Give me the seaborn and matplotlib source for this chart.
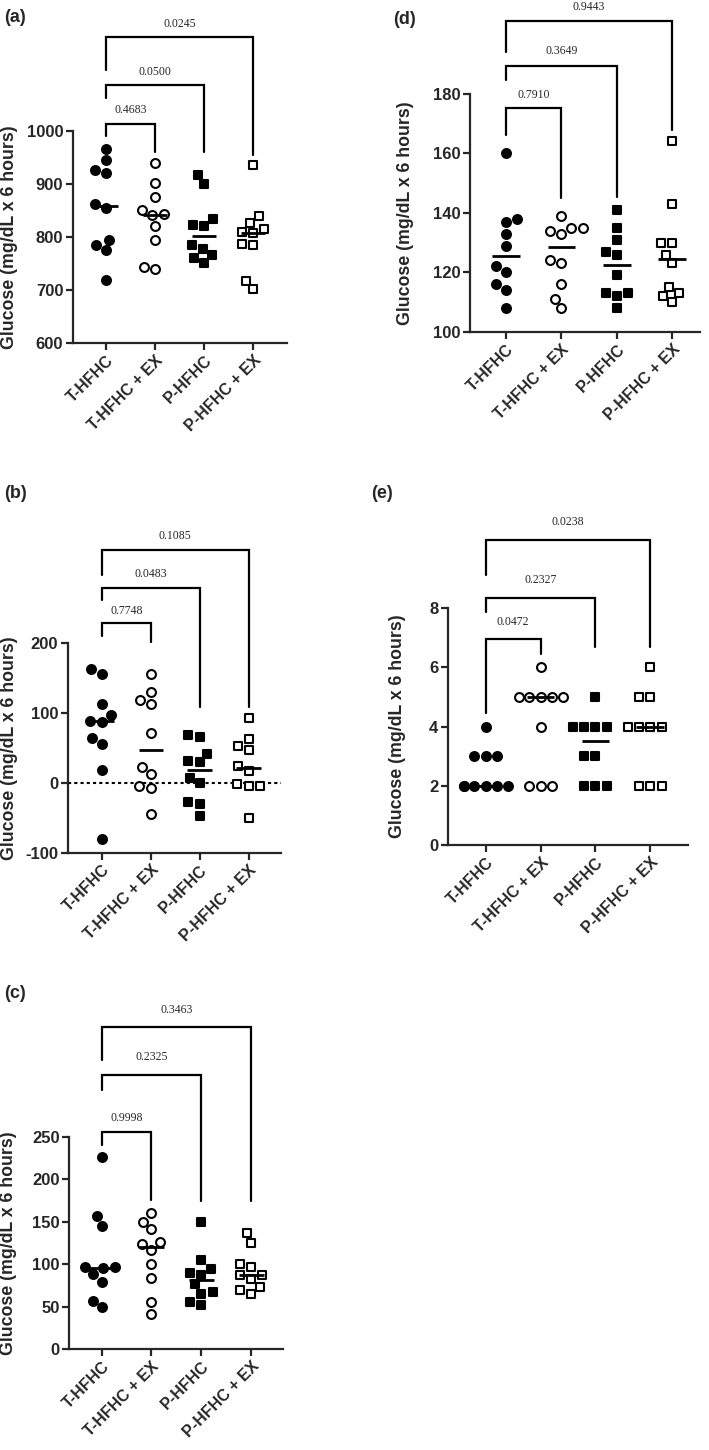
import numpy as np
import pandas as pd
import matplotlib
matplotlib.use('Agg')
import matplotlib.pyplot as plt
import seaborn as sns

groups = ['T-HFHC', 'T-HFHC + EX', 'P-HFHC', 'P-HFHC + EX']

# panel (a)
a_t = [966, 945, 921, 926, 862, 854, 795, 775, 785, 718]
a_tex = [939, 902, 875, 851, 841, 843, 821, 795, 739, 743]
a_p = [917, 899, 834, 823, 821, 784, 778, 761, 765, 750]
a_pex = [936, 840, 827, 814, 809, 807, 785, 787, 717, 701]
a_pvals = ['0.4683', '0.0500', '0.0245']

# panel (b)
b_t = [163, 156, 112, 97, 88, 87, 64, 56, 18, -80]
b_tex = [156, 129, 112, 118, 71, 23, 13, -5, -7, -44]
b_p = [66, 68, 41, 29, 31, 7, -1, -27, -30, -48]
b_pex = [93, 63, 53, 47, 24, 17, -2, -5, -5, -50]
b_pvals = ['0.7748', '0.0483', '0.1085']

# panel (c)
c_t = [226, 157, 145, 97, 96, 95, 88, 79, 57, 49]
c_tex = [160, 150, 141, 126, 124, 117, 100, 84, 55, 41]
c_p = [149, 105, 94, 89, 87, 76, 67, 65, 55, 52]
c_pex = [137, 125, 100, 97, 87, 87, 82, 73, 70, 65]
c_pvals = ['0.9998', '0.2325', '0.3463']

# panel (d)
d_t = [160, 137, 138, 133, 129, 122, 120, 116, 114, 108]
d_tex = [139, 135, 135, 134, 133, 124, 123, 116, 111, 108]
d_p = [141, 135, 131, 127, 126, 119, 113, 113, 112, 108]
d_pex = [164, 143, 130, 130, 126, 123, 115, 113, 112, 110]
d_pvals = ['0.7910', '0.3649', '0.9443']

# panel (e)
e_t = [4, 3, 3, 3, 2, 2, 2, 2, 2, 2]
e_tex = [6, 5, 5, 5, 5, 5, 4, 2, 2, 2]
e_p = [5, 4, 4, 4, 4, 3, 3, 2, 2, 2]
e_pex = [6, 5, 5, 4, 4, 4, 4, 2, 2, 2]
e_pvals = ['0.0472', '0.2327', '0.0238']

sns.set_style('ticks')
plt.rcParams['font.family'] = ['Liberation Sans', 'DejaVu Sans']

W, H = 709, 1450
fig = plt.figure(figsize=(W / 100, H / 100), dpi=100)

marker_styles = [('o', 'black'), ('o', 'white'), ('s', 'black'), ('s', 'white')]


def make_ax(box):
    l, t, r, b = box
    return fig.add_axes([l / W, (H - b) / H, (r - l) / W, (b - t) / H])


def draw_panel(box, values, yticks, xlim, pvals, brackets, letter, letter_xy, ylab_x, zero_line=False):
    ax = make_ax(box)
    df = pd.DataFrame({'group': np.repeat(groups, [len(v) for v in values]),
                       'value': np.concatenate(values)})
    if zero_line:
        ax.axhline(0, color='black', ls=(0, (1.5, 1.5)), lw=1.5, zorder=1)
    sns.boxplot(data=df, x='group', y='value', order=groups, width=0.5, ax=ax,
                showbox=False, showcaps=False, showfliers=False,
                whiskerprops={'visible': False},
                medianprops={'color': 'black', 'linewidth': 2, 'zorder': 5})
    for g, (m, fc) in zip(groups, marker_styles):
        sns.swarmplot(data=df[df.group == g], x='group', y='value', order=groups, ax=ax,
                      marker=m, color=fc, edgecolor='black', linewidth=1.5, size=6.4,
                      warn_thresh=1, zorder=4)

    ax.set_xlim(*xlim)
    ax.set_ylim(yticks[0], yticks[-1])
    ax.set_yticks(yticks)
    ax.set_yticklabels([str(v) for v in yticks], fontweight='bold', fontsize=12)
    ax.set_xticks(range(4))
    ax.set_xticklabels(groups, rotation=45, ha='right', rotation_mode='anchor',
                       fontweight='bold', fontsize=11.5)
    ax.set_xlabel('')
    ax.set_ylabel('')
    sns.despine(ax=ax)
    for s in ['left', 'bottom']:
        ax.spines[s].set_linewidth(1.6)
    ax.tick_params(width=1.6, length=5, pad=2)

    # significance brackets
    for i, (bar_y, left_end, right_end, lab_y) in enumerate(brackets):
        x1 = i + 1
        ax.plot([0, 0, x1, x1], [left_end, bar_y, bar_y, right_end], color='black',
                lw=1.6, clip_on=False, solid_joinstyle='miter', zorder=6)
        ax.text(x1 / 2, lab_y, pvals[i], ha='center', va='center', fontsize=8.5,
                family=['Liberation Serif', 'DejaVu Serif'], clip_on=False)

    fig.text(letter_xy[0] / W, 1 - letter_xy[1] / H, letter, fontsize=13,
             fontweight='bold', ha='left', va='center')
    l, t, r, b = box
    fig.text(ylab_x / W, 1 - (t + b) / 2 / H, 'Glucose (mg/dL x 6 hours)', rotation=90,
             fontsize=12.8, fontweight='bold', ha='center', va='center')
    return ax


draw_panel((73, 130.7, 287, 343), [a_t, a_tex, a_p, a_pex], [600, 700, 800, 900, 1000],
           (-0.67, 3.69), a_pvals,
           [(1013.5, 990, 960, 1039), (1085.6, 1061, 960, 1110), (1177, 1114, 954, 1201)],
           '(a)', (4, 17), 10)

draw_panel((470, 93.6, 700, 332), [d_t, d_tex, d_p, d_pex], [100, 120, 140, 160, 180],
           (-0.65, 3.5), d_pvals,
           [(175.1, 166.1, 144.9, 179.5), (189.4, 184.6, 145.4, 194.3), (204.5, 194, 167.8, 209)],
           '(d)', (393, 20), 405)

draw_panel((68, 642.7, 281, 852.7), [b_t, b_tex, b_p, b_pex], [-100, 0, 100, 200],
           (-0.69, 3.66), b_pvals,
           [(227.7, 209.6, 201.4, 245.7), (277.7, 261, 107.7, 297.7), (332.4, 296.7, 107.7, 352.4)],
           '(b)', (4, 493), 10, zero_line=True)

draw_panel((448, 608, 688, 845.3), [e_t, e_tex, e_p, e_pex], [0, 2, 4, 6, 8],
           (-0.69, 3.69), e_pvals,
           [(6.94, 4.45, 6.45, 7.53), (8.34, 7.87, 6.69, 8.94), (10.29, 9.11, 6.69, 10.9)],
           '(e)', (371, 493), 397)

draw_panel((69.3, 1136.7, 283, 1349), [c_t, c_tex, c_p, c_pex], [0, 50, 100, 150, 200, 250],
           (-0.65, 3.64), c_pvals,
           [(255.9, 240.2, 175.4, 271.7), (322.7, 305, 174.6, 343.9), (379.2, 340.3, 174.6, 399.3)],
           '(c)', (4, 993), 9)

fig.savefig('out.png', dpi=100, facecolor='white')
